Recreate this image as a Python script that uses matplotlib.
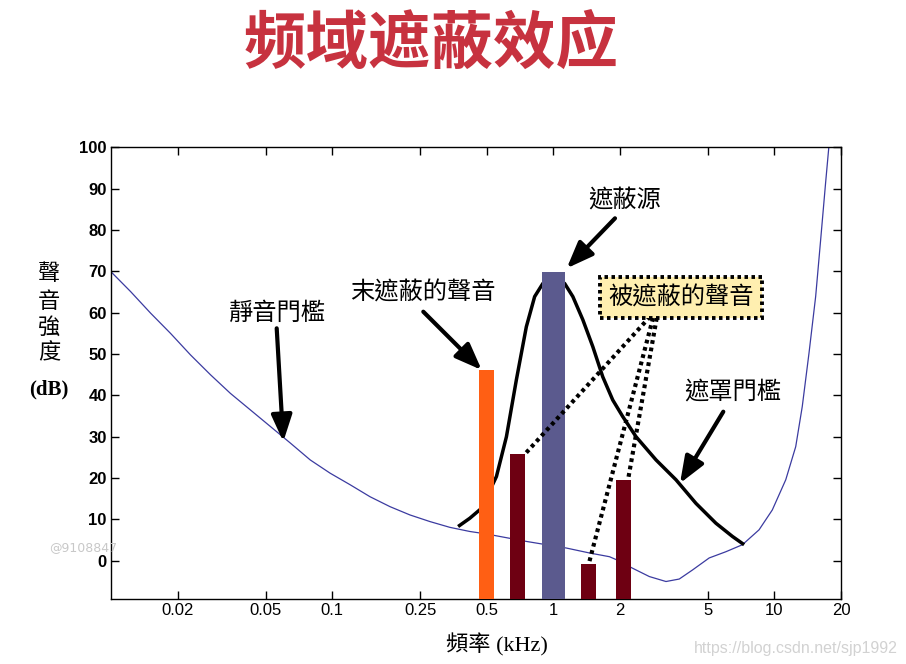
import numpy as np
import matplotlib
matplotlib.use("Agg")
import matplotlib.pyplot as plt
from matplotlib.transforms import IdentityTransform

# ---------------- data ----------------
thr_freq = [0.0100, 0.01227, 0.0151, 0.01859, 0.02288, 0.02817, 0.03466, 0.04267,
            0.05253, 0.06465, 0.0796, 0.0979, 0.1206, 0.1484, 0.1827, 0.2248,
            0.2767, 0.3406, 0.4193, 0.4987, 0.755, 1.145, 1.458, 1.795, 1.924,
            2.286, 2.719, 3.233, 3.712, 4.264, 5.07, 6.03, 7.166, 8.52, 9.78,
            11.25, 12.48, 13.36, 14.33, 15.36, 16.18, 17.03, 17.63]
thr_db = [69.9, 65.1, 59.9, 55.0, 49.8, 45.0, 40.5, 36.5,
          32.5, 28.5, 24.4, 21.2, 18.4, 15.5, 13.1, 11.1,
          9.5, 8.1, 7.1, 6.5, 4.7, 3.1, 1.9, 1.0, 0.3,
          -1.8, -3.8, -5.0, -4.4, -2.2, 0.7, 2.2, 3.9, 7.5, 12.3,
          19.6, 27.6, 37.3, 50.2, 63.9, 77.6, 91.3, 100.2]

mask_freq = [0.3712, 0.4193, 0.4734, 0.5533, 0.6138, 0.681, 0.7553, 0.8236, 0.8979,
             1.0, 1.1246, 1.2259, 1.3601, 1.5088, 1.6739, 1.857, 2.0602, 2.3683,
             2.9151, 3.5883, 4.4168, 5.4364, 6.458, 7.294]
mask_db = [8.3, 10.3, 12.7, 20.4, 30.0, 43.8, 56.6, 63.9, 67.1,
           68.0, 67.1, 63.9, 58.3, 51.8, 44.5, 38.9, 34.9, 30.0,
           24.4, 19.6, 13.9, 9.1, 5.9, 3.9]

bar_freq = [0.5, 0.69, 1.0, 1.44, 2.08]
bar_db = [46.2, 25.8, 69.9, -0.7, 19.6]
bar_colors = ["#FF5F14", "#6E0012", "#5B5A8E", "#6E0012", "#6E0012"]
bar_widths_dec = [0.070, 0.070, 0.105, 0.068, 0.070]

xticks = [0.02, 0.05, 0.1, 0.25, 0.5, 1, 2, 5, 10, 20]
xticklabels = ["0.02", "0.05", "0.1", "0.25", "0.5", "1", "2", "5", "10", "20"]
yticks = list(range(0, 101, 10))

W, H = 906, 664
CJK = ["Noto Sans CJK TC", "DejaVu Sans"]
SERIF_CJK = ["Liberation Serif", "Noto Sans CJK TC"]
TICKF = ["Liberation Sans", "DejaVu Sans"]

fig = plt.figure(figsize=(9.06, 6.64), dpi=100)
ax = fig.add_axes([111 / W, 1 - 599.3 / H, (841 - 111) / W, (599.3 - 147.3) / H])

ax.set_xscale("log")
ax.set_xlim(0.01, 20)
ax.set_ylim(-9.3, 100)

# threshold in quiet (behind bars)
ax.plot(thr_freq, thr_db, color="#3B3BA0", lw=0.9, zorder=2)
# masking threshold (behind bars)
ax.plot(mask_freq, mask_db, color="black", lw=2.5, zorder=2.5,
        solid_capstyle="butt", solid_joinstyle="round")

# bars
for f, v, c, w in zip(bar_freq, bar_db, bar_colors, bar_widths_dec):
    left = f * 10 ** (-w / 2)
    right = f * 10 ** (w / 2)
    ax.bar(left, v + 10, width=right - left, bottom=-10, align="edge",
           color=c, zorder=3)


def px(x, y):
    return (x, H - y)


# dotted connectors (box -> masked bars), in figure pixels
dots = [((650, 316.7), (525, 454)), ((653, 318), (589, 563)), ((656.7, 318), (628, 480))]
for (x0, y0), (x1, y1) in dots:
    ax.plot([x0, x1], [H - y0, H - y1], transform=IdentityTransform(), clip_on=False,
            color="black", lw=3.0, linestyle=(0, (0.9, 0.9)), dash_capstyle="butt",
            zorder=5)

# masked sound label box
fig.text(681 / W, 1 - 297.5 / H, "被遮蔽的聲音", family=CJK, fontsize=17.5,
         ha="center", va="center", zorder=6,
         bbox=dict(boxstyle="square,pad=0.32", facecolor="#FFEFB0", edgecolor="black",
                   lw=2.8, linestyle=(0, (0.9, 0.9))))

arrow = dict(arrowstyle="-|>,head_length=0.9,head_width=0.35", lw=3.0, color="black",
             shrinkA=0, shrinkB=0, mutation_scale=18)


def arr(tip, tail):
    ax.annotate("", xy=px(*tip), xytext=px(*tail), xycoords="figure pixels",
                textcoords="figure pixels", arrowprops=arrow, zorder=6)


def label(x, y, s):
    fig.text(x / W, 1 - y / H, s, family=CJK, fontsize=17.5, ha="center", va="center")


arr((283.3, 441.7), (276.7, 328.3))
label(277, 313, "靜音門檻")
arr((481.7, 370), (423.3, 311.7))
label(423, 293, "末遮蔽的聲音")
arr((566.7, 268.3), (615, 218.3))
label(625, 200, "遮蔽源")
arr((680, 483.3), (723.3, 411.7))
label(733, 391.5, "遮罩門檻")

# ticks
ax.set_xticks(xticks)
ax.set_xticklabels(xticklabels)
ax.xaxis.set_minor_locator(matplotlib.ticker.NullLocator())
ax.set_yticks(yticks)
ax.tick_params(direction="in", length=6, width=1, top=True, right=True)
ax.tick_params(axis="x", pad=3)
ax.tick_params(axis="y", pad=3)
for lab in ax.get_xticklabels():
    lab.set_family(TICKF)
    lab.set_fontsize(12)
for lab in ax.get_yticklabels():
    lab.set_family(TICKF)
    lab.set_fontweight("bold")
    lab.set_fontsize(12)
for s in ax.spines.values():
    s.set_linewidth(1.0)

# axis labels
fig.text(497 / W, 1 - 645 / H, "頻率 (kHz)", family=SERIF_CJK, fontsize=16,
         ha="center", va="center")
for ch, yy in zip("聲音強度", [274, 302, 327, 353]):
    fig.text(49 / W, 1 - yy / H, ch, family=CJK, fontsize=16, ha="center", va="center")
fig.text(49 / W, 1 - 389 / H, "(dB)", family=["Liberation Serif"], fontsize=15,
         fontweight="bold", ha="center", va="center")

# title
fig.text(431 / W, 1 - 44 / H, "频域遮蔽效应", family=["Noto Sans CJK SC", "DejaVu Sans"],
         fontsize=45, fontweight="heavy", color="#C7323F", ha="center", va="center")

# watermarks
fig.text(83 / W, 1 - 548 / H, "@9108847", fontsize=9, color="#C8C8C8",
         ha="center", va="center")
fig.text(796 / W, 1 - 648 / H, "https://blog.csdn.net/sjp1992", family=TICKF,
         fontsize=11.5, color="#D2D2D2", ha="center", va="center")

fig.savefig("out.png", dpi=100)
